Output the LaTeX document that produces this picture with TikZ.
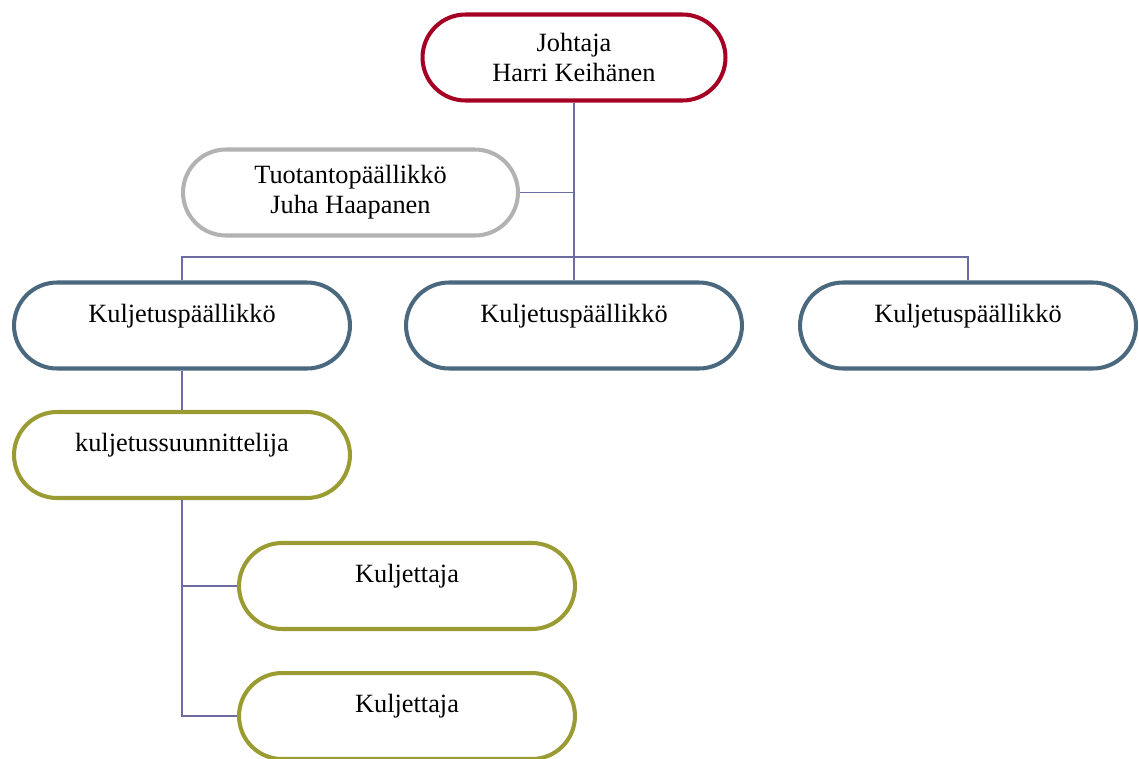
\documentclass[tikz,border=0pt]{standalone}
\usepackage{fontspec}
\setmainfont{Liberation Serif}
\usepackage{xcolor}
\definecolor{bossred}{RGB}{165,0,36}
\definecolor{prodgray}{RGB}{178,178,178}
\definecolor{chiefblue}{RGB}{74,104,126}
\definecolor{planolive}{RGB}{155,155,52}
\definecolor{linkblue}{RGB}{108,108,160}

\begin{document}
\begin{tikzpicture}[x=0.02cm, y=-0.02cm,
    box/.style={draw, line width=2.3pt, rounded corners=0.86cm, fill=white,
        minimum width=6.72cm, minimum height=1.72cm, align=center,
        font=\fontsize{15}{17}\selectfont},
    link/.style={draw=linkblue, line width=0.9pt}]
                \useasboundingbox (0,0) rectangle (1139,758);

                \node[box, draw=bossred, minimum width=6.06cm] (j) at (574, 57.5) {Johtaja\\Harri Keihänen};
                \node[box, draw=prodgray, minimum width=6.7cm] (t) at (350.5, 192.5) {Tuotantopäällikkö\\Juha Haapanen};
                \node[box, draw=chiefblue] (k1) at (182, 325.5) {Kuljetuspäällikkö\\[-3pt]~};
                \node[box, draw=chiefblue] (k2) at (574, 325.5) {Kuljetuspäällikkö\\[-3pt]~};
                \node[box, draw=chiefblue] (k3) at (968, 325.5) {Kuljetuspäällikkö\\[-3pt]~};
                \node[box, draw=planolive] (s) at (182, 455) {kuljetussuunnittelija\\[-3pt]~};
                \node[box, draw=planolive] (d1) at (407, 586) {Kuljettaja\\[-3pt]~};
                \node[box, draw=planolive] (d2) at (407, 716) {Kuljettaja\\[-3pt]~};

                \coordinate (hub) at (574, 257);

                \begin{scope}[on background layer/.try]
                \draw[link]
                (j.south) -- (hub)
                (t.east) -- (t.east -| hub)
                (k1.north) |- (hub) -| (k3.north)
                (hub) -- (k2.north)
                (k1.south) -- (s.north)
                (s.south) |- (d1.west)
                (s.south) |- (d2.west);
                \end{scope}
            \end{tikzpicture}
\end{document}
